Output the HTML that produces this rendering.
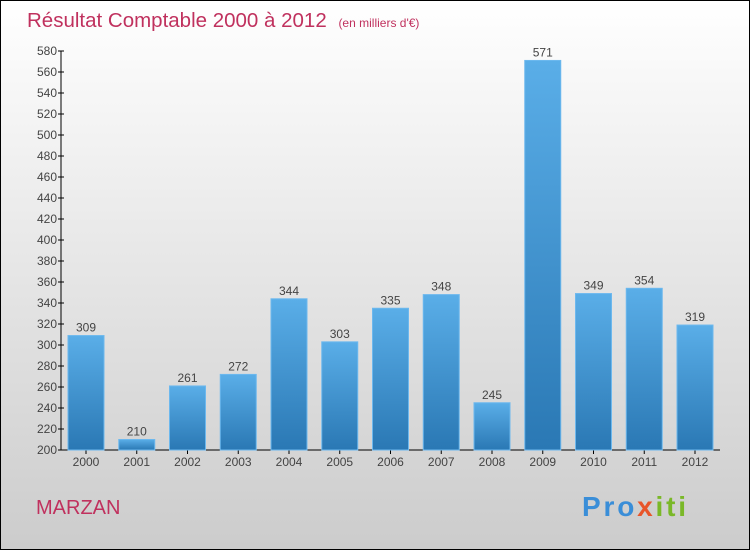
<!DOCTYPE html>
<html><head><meta charset="utf-8"><style>
body{margin:0;width:750px;height:550px;overflow:hidden;font-family:"Liberation Sans",sans-serif}
</style></head><body>
<svg width="750" height="550" xmlns="http://www.w3.org/2000/svg" font-family="Liberation Sans, sans-serif">
<defs>
<linearGradient id="bg" x1="0" y1="0" x2="0" y2="1"><stop offset="0" stop-color="#ffffff"/><stop offset="1" stop-color="#cccccc"/></linearGradient>
<linearGradient id="bar" x1="0" y1="0" x2="0" y2="1"><stop offset="0" stop-color="#5aaee8"/><stop offset="1" stop-color="#2a78b4"/></linearGradient>
</defs>
<rect x="0.5" y="0.5" width="749" height="549" fill="url(#bg)" stroke="#000"/>
<text x="27" y="27" font-size="20.5" fill="#c0315e">Résultat Comptable 2000 à 2012 <tspan font-size="12" dx="6">(en milliers d'€)</tspan></text>
<text x="36" y="514" font-size="20" fill="#c0315e">MARZAN</text>
<text x="582" y="516" font-size="28" font-weight="bold" fill="#3a8ed8" textLength="104">Pro<tspan fill="#e8552a">x</tspan><tspan fill="#7ab828">iti</tspan></text>
<g id="axes"></g>
<g id="bars"></g>
</svg>
<script>
const categories=["2000","2001","2002","2003","2004","2005","2006","2007","2008","2009","2010","2011","2012"];
const values=[309,210,261,272,344,303,335,348,245,571,349,354,319];
const yTicks=[200,220,240,260,280,300,320,340,360,380,400,420,440,460,480,500,520,540,560,580];
const NS="http://www.w3.org/2000/svg";
const y0=450,y1=51,vmin=200,vmax=580,x0=61,step=50.75,first=86,bw=36;
const yS=v=>y0-(v-vmin)*(y0-y1)/(vmax-vmin);
const xS=i=>first+i*step;
function mk(t,a,p){const e=document.createElementNS(NS,t);for(const k in a)e.setAttribute(k,a[k]);p.appendChild(e);return e;}
const ax=document.getElementById('axes'),bg=document.getElementById('bars');
let l=mk('line',{x1:x0,y1:y1,x2:x0,y2:y0,stroke:'#000'},ax);


l=mk('line',{x1:x0,y1:y0,x2:720,y2:y0,stroke:'#000'},ax);


yTicks.forEach(v=>{const y=yS(v);
 mk('line',{x1:x0-3,y1:y,x2:x0+3,y2:y,stroke:'#000'},ax);
 const t=mk('text',{x:x0-4,y:y+4,'font-size':12,'text-anchor':'end',fill:'#444'},ax);t.textContent=v;
 
 });
categories.forEach((c,i)=>{const x=xS(i),v=values[i],y=yS(v);
 mk('line',{x1:x,y1:y0,x2:x,y2:y0+4,stroke:'#000'},ax);
 const t=mk('text',{x:x,y:y0+16,'font-size':12,'text-anchor':'middle',fill:'#444'},ax);t.textContent=c;
 
 
 const r=mk('rect',{x:x-bw/2,y:y,width:bw,height:y0-y,fill:'url(#bar)',stroke:'#6cb8ee','stroke-width':1},bg);
 
 
 const lb=mk('text',{x:x,y:y-4,'font-size':12,'text-anchor':'middle',fill:'#444'},bg);lb.textContent=v;
 
 });
</script>
</body></html>
